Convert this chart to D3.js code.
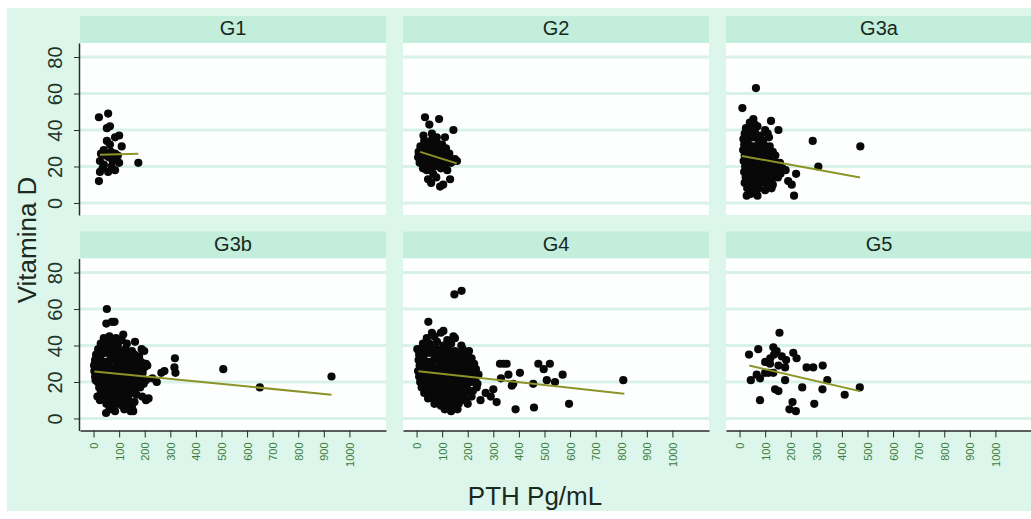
<!DOCTYPE html>
<html>
<head>
<meta charset="utf-8">
<script src="https://cdn.jsdelivr.net/npm/d3@7"></script>
<style>
  body { margin: 0; background: #fff; }
  svg { display: block; font-family: "Liberation Sans", Arial, sans-serif; }
</style>
</head>
<body>
<div id="chart"></div>
<script>
// Scatter of Vitamina D vs PTH, one panel per CKD group, with linear fit

const groups = ['G1', 'G2', 'G3a', 'G3b', 'G4', 'G5'];
const xTicks = [0, 100, 200, 300, 400, 500, 600, 700, 800, 900, 1000];
const yTicks = [0, 20, 40, 60, 80];

// points: [PTH, Vitamina D]
const ptsG1 = [[21,47],[57,49],[64,42],[52,41],[100,37],[84,36],[52,34],[64,32],[110,31],[29,27],
  [84,27],[175,22],[25,23],[40,21],[25,17],[57,17],[84,18],[21,12],[60,25],[75,23],[48,26],
  [70,20],[88,24],[40,29],[68,28],[95,26],[100,22],[35,19]];

const ptsG2 = [[33,47],[88,46],[50,43],[144,40],[27,37],[79,36],[111,36],[65,16],[131,13],[57,11],
  [104,10],[77,14],[45,13],[92,9],[40,18],[120,18],[60,38],[100,32],
  [30,34],[55,34],[80,33],
  [15,31],[35,31],[55,31],[75,30],[95,31],[115,30],
  [8,28],[28,28],[48,28],[68,27],[88,28],[108,27],[128,27],
  [6,25],[26,25],[46,25],[66,24],[86,25],[106,24],[126,25],[150,24],[158,23],
  [12,22],[32,22],[52,21],[72,22],[92,22],[112,21],[135,22],
  [25,19],[50,19],[70,20],[95,19]];

const ptsG3a = [[64,63],[11,52],[54,46],[123,45],[152,40],[286,34],[472,31],[308,20],[28,4],[213,4],
  [204,10],[221,16],[180,18],[190,12],
  [40,44],[60,43],
  [25,41],[45,41],[70,42],[100,40],
  [20,38],[40,38],[60,39],[82,37],[110,38],
  [15,35],[33,35],[52,36],[72,35],[92,34],[115,36],
  [18,32],[36,32],[55,31],[75,32],[95,32],[118,31],
  [14,29],[32,29],[50,28],[70,29],[90,28],[110,29],[130,28],
  [20,26],[38,26],[58,25],[78,26],[98,26],[118,25],[140,26],
  [16,23],[34,23],[54,22],[74,23],[94,23],[114,22],[136,23],[158,22],
  [22,20],[40,20],[60,19],[80,20],[100,20],[122,19],[145,20],[168,19],
  [18,17],[36,17],[56,16],[76,17],[96,17],[118,16],[140,17],[160,16],
  [24,14],[44,14],[64,13],[84,14],[104,14],[126,13],[150,14],
  [20,11],[40,11],[60,10],[82,11],[104,11],[130,10],
  [30,8],[52,7],[75,8],[100,7],[125,8],
  [45,5],[70,4]];

const ptsG3b = [[52,60],[50,52],[72,53],[82,53],[116,46],[162,42],[188,38],[198,37],[318,33],[316,28],
  [320,25],[277,26],[265,25],[247,20],[230,22],[507,27],[650,17],[930,23],[49,3],[155,4],
  [210,29],[205,30],[215,11],[205,10],[12,34],[5,30],[3,26],[8,21],[15,12],[25,10],
  [40,44],[62,45],[88,44],[110,43],
  [28,41],[50,41],[70,42],[95,40],[130,41],
  [18,38],[38,38],[58,39],[80,38],[102,37],[125,38],[150,37],
  [10,35],[30,35],[48,36],[68,35],[90,34],[112,35],[135,34],[160,35],[178,34],
  [6,32],[24,32],[44,31],[64,32],[84,32],[104,31],[124,32],[144,31],[166,32],[185,31],[200,30],
  [2,29],[20,29],[40,28],[60,29],[80,28],[100,29],[120,28],[140,29],[160,28],[180,29],[198,28],
  [14,26],[34,26],[54,25],[74,26],[94,26],[114,25],[134,26],[154,25],[174,26],[192,25],
  [6,23],[26,23],[46,22],[66,23],[86,23],[106,22],[126,23],[146,22],[166,23],[186,22],[205,21],
  [16,20],[36,20],[56,19],[76,20],[96,20],[116,19],[136,20],[156,19],[176,20],[196,19],
  [22,17],[42,17],[62,16],[82,17],[102,17],[122,16],[142,17],[162,16],[182,17],
  [28,14],[48,14],[68,13],[88,14],[108,14],[128,13],[148,14],[168,13],[190,12],
  [38,11],[58,11],[78,10],[98,11],[118,11],[138,10],[160,9],
  [50,8],[70,7],[92,8],[112,7],[132,8],[150,6],
  [62,5],[84,4],[120,5],[145,4]];

const ptsG4 = [[148,68],[176,70],[46,53],[3,38],[105,48],[144,45],[326,30],[352,30],[340,30],[476,30],
  [521,30],[497,27],[571,24],[404,25],[359,24],[509,21],[541,20],[456,19],[372,18],[378,19],
  [808,21],[387,5],[459,6],[596,8],[313,9],[290,12],[270,14],[300,16],[250,10],[235,17],
  [330,22],[220,30],[230,25],
  [60,47],[95,47],
  [40,44],[70,45],[120,43],[150,44],
  [25,41],[50,41],[80,42],[105,40],[135,41],[175,40],
  [15,38],[35,38],[58,39],[80,38],[102,37],[125,38],[150,37],[180,38],[205,37],
  [10,35],[30,35],[50,36],[70,35],[92,34],[114,35],[136,34],[158,35],[180,34],[200,35],[215,33],
  [8,32],[28,32],[48,31],[68,32],[88,32],[108,31],[128,32],[148,31],[168,32],[188,31],[208,32],[225,30],
  [12,29],[32,28],[52,29],[72,28],[92,29],[112,28],[132,29],[152,28],[172,29],[192,28],[212,29],[232,27],
  [6,26],[24,26],[44,25],[64,26],[84,26],[104,25],[124,26],[144,25],[164,26],[184,25],[204,26],[224,25],[242,24],
  [10,23],[30,23],[50,22],[70,23],[90,23],[110,22],[130,23],[150,22],[170,23],[190,22],[210,23],[230,22],
  [14,20],[34,20],[54,19],[74,20],[94,20],[114,19],[134,20],[154,19],[174,20],[194,19],[214,20],[238,19],
  [20,17],[40,17],[60,16],[80,17],[100,17],[120,16],[140,17],[160,16],[180,17],[200,16],[220,15],
  [30,14],[50,14],[70,13],[90,14],[110,14],[130,13],[150,14],[170,13],[190,14],[215,12],
  [45,11],[65,11],[85,10],[105,11],[125,11],[145,10],[165,11],[190,10],
  [70,8],[95,7],[120,8],[140,7],[165,8],[200,8],
  [110,5],[135,4],[160,5]];

const ptsG5 = [[156,47],[37,35],[73,38],[132,39],[145,37],[135,35],[210,36],[223,33],[182,32],[100,31],
  [119,30],[152,29],[178,28],[262,28],[288,28],[325,29],[100,25],[113,25],[132,25],[67,24],
  [80,22],[44,21],[178,21],[343,21],[139,16],[152,15],[245,17],[324,16],[470,17],[411,13],
  [80,10],[292,8],[207,9],[195,5],[220,4],[120,33],[165,34]];

// fitted lines, [start, end] in data units
const fitG1 = [[25, 26.5], [175, 27]];
const fitG2 = [[14, 28], [157, 21.7]];
const fitG3a = [[9, 25.8], [471, 14]];
const fitG3b = [[3, 25.8], [930, 13]];
const fitG4 = [[7, 25.9], [812, 13.5]];
const fitG5 = [[38, 29], [470, 15]];

const groupPoints = [ptsG1, ptsG2, ptsG3a, ptsG3b, ptsG4, ptsG5];
const groupFits = [fitG1, fitG2, fitG3a, fitG3b, fitG4, fitG5];

// Layout
const width = 1031, height = 519;
const colLeft = [80, 403, 726];
const rowTop = [16, 231.5];
const panelW = 306, stripH = 27, plotH = 172;

const svg = d3.select('#chart').append('svg')
    .attr('width', width)
    .attr('height', height);

// mint graph region
svg.append('rect')
    .attr('x', 7).attr('y', 8)
    .attr('width', width - 7).attr('height', 503)
    .attr('fill', '#ddf6eb');

// Shared scales
const x = d3.scaleLinear().domain([-53, 1143]).range([0, panelW]);
const y = d3.scaleLinear().domain([-6.6, 87.7]).range([plotH, 0]);
const line = d3.line().x(d => x(d[0])).y(d => y(d[1]));

groups.forEach((name, i) => {
    const col = i % 3, row = Math.floor(i / 3);
    const g = svg.append('g')
        .attr('transform', `translate(${colLeft[col]},${rowTop[row] + stripH})`);

    // header strip
    g.append('rect')
        .attr('x', 0).attr('y', -stripH)
        .attr('width', panelW).attr('height', stripH)
        .attr('fill', '#c3eedb');
    g.append('text')
        .attr('x', panelW / 2).attr('y', -8)
        .attr('text-anchor', 'middle')
        .attr('fill', '#17291e')
        .style('font-size', '20px')
        .text(name);

    // plot area + grid
    g.append('rect')
        .attr('width', panelW).attr('height', plotH)
        .attr('fill', '#fdfffe');
    g.selectAll('.grid')
        .data(yTicks)
        .enter()
        .append('line')
        .attr('x1', 0).attr('x2', panelW)
        .attr('y1', d => y(d)).attr('y2', d => y(d))
        .attr('stroke', '#d9f2e7')
        .attr('stroke-width', 3);

    // points
    g.selectAll('.pt')
        .data(groupPoints[i])
        .enter()
        .append('circle')
        .attr('cx', d => x(d[0]))
        .attr('cy', d => y(d[1]))
        .attr('r', 4.1)
        .attr('fill', '#080808');

    // linear fit
    g.append('path')
        .datum(groupFits[i])
        .attr('d', line)
        .attr('fill', 'none')
        .attr('stroke', '#8d9327')
        .attr('stroke-width', 2);

    // y axis on the left column
    if (col === 0) {
        const ya = g.append('g')
            .attr('transform', 'translate(-1,0)')
            .call(d3.axisLeft(y).tickValues(yTicks).tickSize(5).tickSizeOuter(0));
        ya.select('.domain').attr('stroke', '#2a2a2a').attr('stroke-width', 1.5);
        ya.selectAll('line').attr('stroke', '#2a2a2a');
        ya.selectAll('text')
            .attr('transform', 'rotate(-90)')
            .attr('x', 0).attr('y', -17).attr('dy', 0)
            .attr('text-anchor', 'middle')
            .attr('fill', '#1c3526')
            .style('font-size', '20px')
            .style('font-family', '"Liberation Sans", Arial, sans-serif');
    }

    // x axis on the bottom row
    if (row === 1) {
        const xa = g.append('g')
            .attr('transform', `translate(0,${plotH})`)
            .call(d3.axisBottom(x).tickValues(xTicks).tickFormat(d3.format('d'))
                .tickSize(7).tickSizeOuter(0));
        xa.select('.domain').attr('stroke', '#2a2a2a').attr('stroke-width', 1.5);
        xa.selectAll('line').attr('stroke', '#2a2a2a');
        xa.selectAll('text')
            .attr('transform', 'rotate(-90)')
            .attr('x', -12).attr('y', 4).attr('dy', 0)
            .attr('text-anchor', 'end')
            .attr('fill', '#3b7d3b')
            .style('font-size', '11px')
            .style('font-family', '"Liberation Sans", Arial, sans-serif');
    }
});

// axis titles
svg.append('text')
    .attr('transform', 'translate(36,240) rotate(-90)')
    .attr('text-anchor', 'middle')
    .attr('fill', '#1a2a20')
    .style('font-size', '26px')
    .text('Vitamina D');

svg.append('text')
    .attr('x', 535).attr('y', 505)
    .attr('text-anchor', 'middle')
    .attr('fill', '#1a2a20')
    .style('font-size', '26px')
    .text('PTH Pg/mL');
</script>
</body>
</html>
